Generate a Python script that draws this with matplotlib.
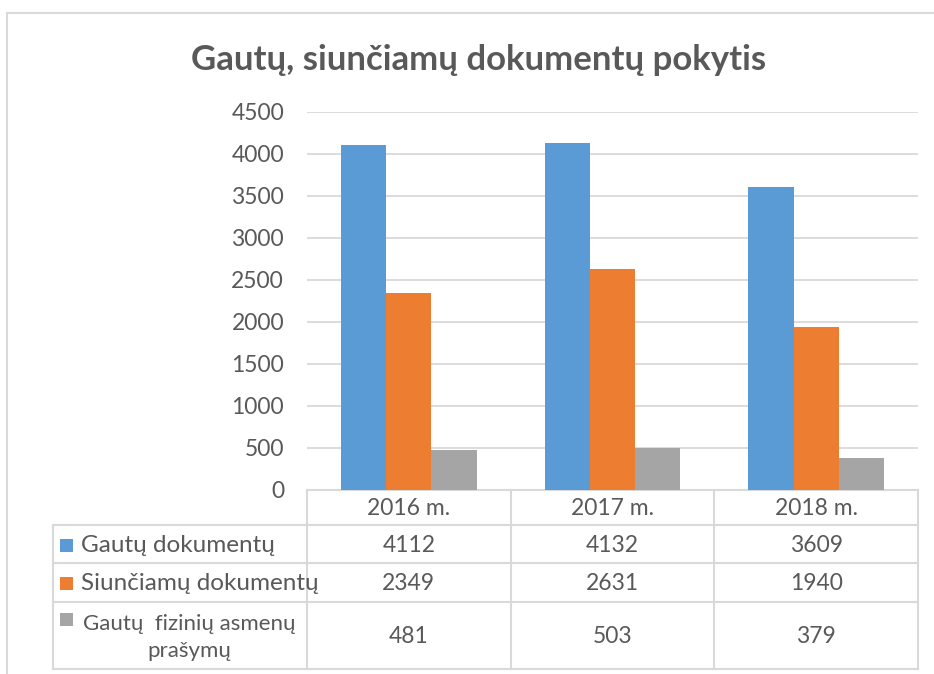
import numpy as np
import matplotlib.pyplot as plt
from matplotlib.patches import Rectangle

plt.rcParams["font.family"] = ["Lato", "DejaVu Sans"]

# data
years = ["2016 m.", "2017 m.", "2018 m."]
series_names = ["Gautų dokumentų", "Siunčiamų dokumentų", "Gautų  fizinių asmenų\nprašymų"]
gauti = [4112, 4132, 3609]
siunciami = [2349, 2631, 1940]
prasymai = [481, 503, 379]
yticks = [0, 500, 1000, 1500, 2000, 2500, 3000, 3500, 4000, 4500]

colors = ["#5B9BD5", "#ED7D31", "#A5A5A5"]
TXT = "#595959"
GRID = "#D9D9D9"
FS_NUM = 16.5
FS_LBL = 17.5

W, H = 934, 674
fig = plt.figure(figsize=(W / 100, H / 100), dpi=100)

# overlay in pixel coords for frame + table
ov = fig.add_axes([0, 0, 1, 1])
ov.set_xlim(0, W)
ov.set_ylim(H, 0)
ov.axis("off")

# chart frame (only left and top visible)
ov.plot([7, 7], [13, H], color=GRID, lw=1.5)
ov.plot([7, W], [13, 13], color=GRID, lw=1.5)

# plot area
x0, x1, y_top, y_bot = 307, 918, 112, 490
ax = fig.add_axes([x0 / W, 1 - y_bot / H, (x1 - x0) / W, (y_bot - y_top) / H])
ax.set_xlim(-0.5, len(years) - 0.5)
ax.set_ylim(0, 4500)
ax.set_yticks(yticks)
ax.set_yticklabels([str(t) for t in yticks], fontsize=FS_NUM, color=TXT)
ax.tick_params(axis="y", length=0, pad=16.5)
ax.set_xticks([])
for s in ax.spines.values():
    s.set_visible(False)
ax.set_axisbelow(True)
ax.yaxis.grid(True, color=GRID, lw=1.3)
ax.patch.set_alpha(0)

x = np.arange(len(years))
bw = 0.2225
for i, vals in enumerate([gauti, siunciami, prasymai]):
    ax.bar(x + (i - 1) * bw, vals, width=bw, color=colors[i], zorder=3)

fig.text(479 / W, 1 - 60 / H, "Gautų, siunčiamų dokumentų pokytis",
         ha="center", va="center", fontsize=25, fontweight="bold", color=TXT)

# data table
col_edges = [x0 + (x1 - x0) * k / 3 for k in range(4)]
row_edges = [490, 525, 563, 602, 669]
left = 53
lw = 1.5
for xe in col_edges:
    ov.plot([xe, xe], [row_edges[0], row_edges[-1]], color=GRID, lw=lw)
ov.plot([x0, x1], [row_edges[0], row_edges[0]], color=GRID, lw=lw)
for ye in row_edges[1:]:
    ov.plot([left, x1], [ye, ye], color=GRID, lw=lw)
ov.plot([left, left], [row_edges[1], row_edges[-1]], color=GRID, lw=lw)

for j, yr in enumerate(years):
    cx = (col_edges[j] + col_edges[j + 1]) / 2
    ov.text(cx, (row_edges[0] + row_edges[1]) / 2 + 1, yr, ha="center", va="center",
            fontsize=FS_NUM, color=TXT)

table_vals = [gauti, siunciami, prasymai]
for i in range(3):
    ry0, ry1 = row_edges[i + 1], row_edges[i + 2]
    cy = (ry0 + ry1) / 2 + 1
    if i < 2:
        ov.add_patch(Rectangle((60, cy - 6.5), 13, 13, color=colors[i], lw=0))
        ov.text(81, cy, series_names[i], ha="left", va="center", fontsize=FS_LBL, color=TXT)
    else:
        ov.add_patch(Rectangle((60, 619 - 6.5), 13, 13, color=colors[i], lw=0))
        ov.text(189, cy + 1, series_names[i], ha="center", va="center", fontsize=16,
                color=TXT, multialignment="center", linespacing=1.38)
    for j in range(3):
        cx = (col_edges[j] + col_edges[j + 1]) / 2
        ov.text(cx, cy, str(table_vals[i][j]), ha="center", va="center",
                fontsize=FS_NUM, color=TXT)

fig.savefig("out.png", dpi=100)
